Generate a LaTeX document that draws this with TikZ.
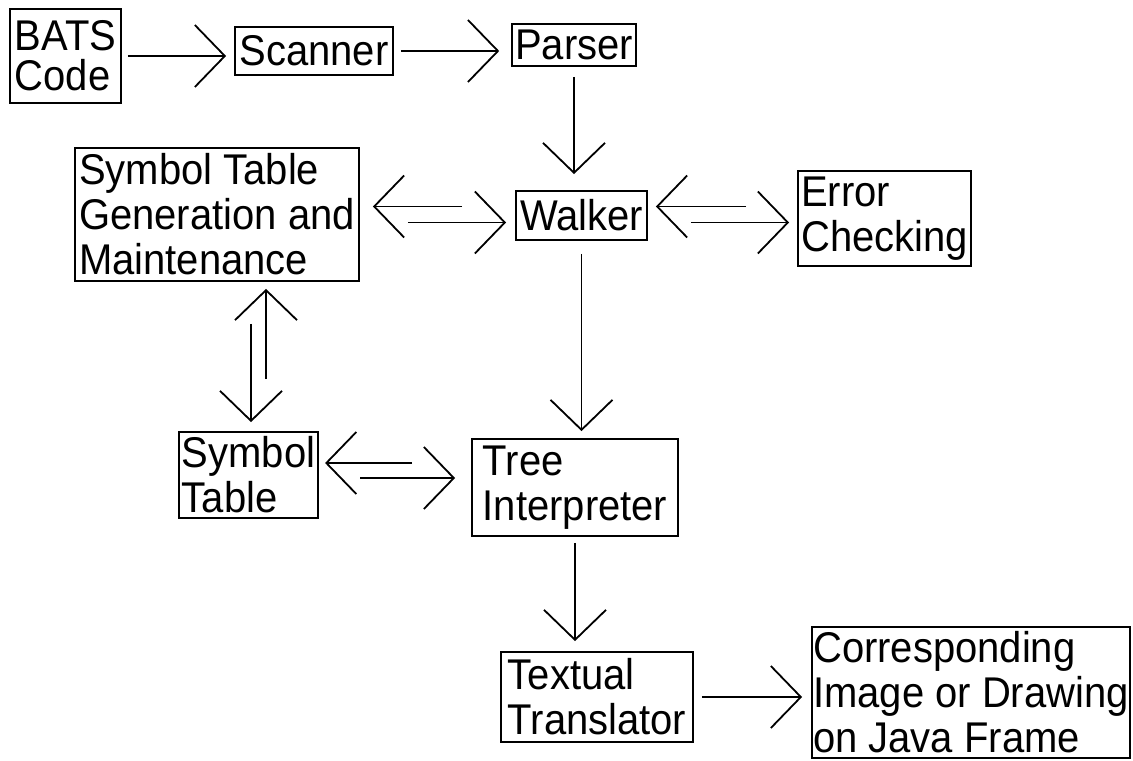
\documentclass[tikz,border=0pt]{standalone}
\usepackage{fontspec}
\setmainfont{Liberation Sans}[FakeStretch=0.93]
\usetikzlibrary{arrows.meta,positioning,calc}

\begin{document}
\begin{tikzpicture}[
    x=0.5pt, y=-0.5pt,
    box/.style={draw, line width=0.9pt, align=left, inner xsep=1.5pt, inner ysep=0pt,
                font=\fontsize{21.5pt}{22.5pt}\selectfont},
    conn/.style={line width=0.9pt, -{Straight Barb[length=15pt, width=31pt]}},
  ]
  \useasboundingbox (0,0) rectangle (1133,760);

  % Front end
  \node[box, minimum width=55.5pt, minimum height=47pt,
        font=\fontsize{21.5pt}{20pt}\selectfont] (bats) at (65.5,56) {BATS\\Code};
  \node[box, minimum width=79pt, minimum height=24pt] (scanner) at (314,51) {Scanner};
  \node[box, minimum width=61pt, minimum height=21pt] (parser) at (574,45) {Parser};

  % Walker and its helpers
  \node[box, minimum width=142pt, minimum height=66.5pt] (symgen) at (217,214.5) {Symbol Table\\Generation and\\Maintenance};
  \node[box, minimum width=65.5pt, minimum height=24.5pt] (walker) at (581.5,215.5) {Walker};
  \node[box, minimum width=86.5pt, minimum height=47.5pt] (errchk) at (884.5,218.5) {Error\\Checking};

  % Back end
  \node[box, minimum width=67.5pt, minimum height=43pt] (symtab) at (248.5,475) {Symbol\\Table};
  \node[box, minimum width=103pt, minimum height=48.5pt] (interp) at (575,487.5) {Tree\\Interpreter};
  \node[box, minimum width=96pt, minimum height=45pt] (transl) at (597,697) {Textual\\Translator};
  \node[box, inner xsep=0.5pt, minimum width=159pt, minimum height=65.5pt] (output) at (971,692.5) {Corresponding\\Image or Drawing\\on Java Frame};

  % Single arrows
  \draw[conn, shorten <=3pt, shorten >=4pt] (bats.east) -- (bats.east -| scanner.west);
  \draw[conn, shorten <=3.5pt, shorten >=6pt] (scanner.east) -- (scanner.east -| parser.west);
  \draw[conn, shorten <=5pt, shorten >=8pt] (parser.south) -- (parser.south |- walker.north);
  \draw[conn, shorten <=6.5pt, shorten >=3.5pt] (walker.south) -- (walker.south |- interp.north);
  \draw[conn, shorten <=3pt, shorten >=5pt] (interp.south) -- (interp.south |- transl.north);
  \draw[conn, shorten <=4pt, shorten >=4.5pt] (transl.east) -- (transl.east -| output.west);

  % Two-way arrows, drawn as two offset lines
  \draw[conn, shorten <=26.5pt, shorten >=6.5pt] ($(symgen.east -| walker.west)+(0,-8)$) -- ($(symgen.east)+(0,-8)$);
  \draw[conn, shorten <=24pt, shorten >=4.5pt] ($(symgen.east)+(0,8)$) -- ($(symgen.east -| walker.west)+(0,8)$);
  \draw[conn, shorten <=25.5pt, shorten >=4pt] ($(walker.east -| errchk.west)+(0,-9)$) -- ($(walker.east)+(0,-9)$);
  \draw[conn, shorten <=21.5pt, shorten >=4pt] ($(walker.east)+(0,7)$) -- ($(walker.east -| errchk.west)+(0,7)$);
  \draw[conn, shorten <=26pt, shorten >=3.5pt] ($(symtab.north)+(17.5,0)$) -- ($(symtab.north |- symgen.south)+(17.5,0)$);
  \draw[conn, shorten <=21pt, shorten >=4.5pt] ($(symtab.north |- symgen.south)+(2.5,0)$) -- ($(symtab.north)+(2.5,0)$);
  \draw[conn, shorten <=29.5pt, shorten >=3pt] ($(symtab.east -| interp.west)+(0,-12)$) -- ($(symtab.east)+(0,-12)$);
  \draw[conn, shorten <=20.5pt, shorten >=8pt] ($(symtab.east)+(0,3)$) -- ($(symtab.east -| interp.west)+(0,3)$);
\end{tikzpicture}
\end{document}
